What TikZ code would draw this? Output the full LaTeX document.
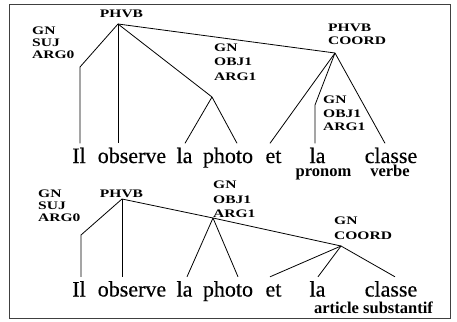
\documentclass[tikz,border=0pt]{standalone}
\usepackage{fontspec}
\setmainfont{Liberation Serif}
\newfontfamily\labfont[FakeStretch=1.35, BoldFeatures={FakeStretch=1.35}]{Liberation Serif}
\newfontfamily\wordfont[FakeBold=0.4]{Liberation Serif}
\begin{document}
\begin{tikzpicture}[x=1pt,y=-1pt,
  lab/.style={font=\labfont\bfseries\fontsize{11.5}{13}\selectfont, inner sep=0pt, anchor=base west},
  word/.style={font=\wordfont\fontsize{22}{24}\selectfont, inner sep=0pt, text height=19.5pt, text depth=0pt, anchor=base},
  poslab/.style={font=\bfseries\fontsize{16.5}{18}\selectfont, inner sep=0pt, anchor=base},
  conn/.style={line width=0.8pt, black}]
\useasboundingbox (0,0) rectangle (457,321);
\draw[line width=0.6pt, black!75] (9,4) rectangle (450,318);

% ---------- top tree ----------
\node[lab, anchor=base] (p1) at (121.5,18) {PHVB};
\coordinate (r1) at (118,24);
\node[lab] (s1a) at (32,35) {GN};
\node[lab] (s1b) at (32,47) {SUJ};
\node[lab] (s1c) at (32,59) {ARG0};
\coordinate (g1) at (80,67);
\node[lab] (o1a) at (214,52) {GN};
\node[lab] (o1b) at (214,66) {OBJ1};
\node[lab] (o1c) at (214,80) {ARG1};
\coordinate (o1) at (212,97);
\node[lab] (c1a) at (328,32) {PHVB};
\node[lab] (c1b) at (328,45) {COORD};
\coordinate (c1) at (335,53);
\node[lab] (q1a) at (323,103) {GN};
\node[lab] (q1b) at (323,117) {OBJ1};
\node[lab] (q1c) at (323,130) {ARG1};
\coordinate (q1) at (315,105);

\node[word] (il1) at (79,163) {Il};
\node[word] (ob1) at (132,163) {observe};
\node[word] (la1) at (184.5,163) {la};
\node[word] (ph1) at (228,163) {photo};
\node[word] (et1) at (273.5,163) {et};
\node[word] (lb1) at (317.5,163) {la};
\node[word] (cl1) at (391,163) {classe};
\node[poslab] (pr1) at (323.5,176) {pronom};
\node[poslab] (vb1) at (390,176) {verbe};

\draw[conn] (r1) -- (g1) -- (g1 |- il1.north);
\draw[conn] (r1) -- (r1 |- ob1.north);
\draw[conn] (r1) -- (o1);
\draw[conn] (o1) -- ([xshift=0.5pt]la1.north);
\draw[conn] (o1) -- ([xshift=9pt]ph1.north);
\draw[conn] (r1) -- (c1);
\draw[conn] (c1) -- ([xshift=-3.5pt]et1.north);
\draw[conn] (c1) -- (q1) -- (q1 |- lb1.north);
\draw[conn] (c1) -- ([xshift=-6pt]cl1.north);

% ---------- bottom tree ----------
\node[lab, anchor=base] (p2) at (121.5,197) {PHVB};
\coordinate (r2) at (122,199);
\node[lab] (s2a) at (38,197) {GN};
\node[lab] (s2b) at (38,209) {SUJ};
\node[lab] (s2c) at (38,221) {ARG0};
\coordinate (g2) at (81,235);
\node[lab] (o2a) at (213,188) {GN};
\node[lab] (o2b) at (213,203) {OBJ1};
\node[lab] (o2c) at (213,217) {ARG1};
\coordinate (o2) at (213,218);
\node[lab] (c2a) at (334,224) {GN};
\node[lab] (c2b) at (334,239) {COORD};
\coordinate (c2) at (341,246);

\node[word] (il2) at (79,296.5) {Il};
\node[word] (ob2) at (132,296.5) {observe};
\node[word] (la2) at (184.5,296.5) {la};
\node[word] (ph2) at (228,296.5) {photo};
\node[word] (et2) at (273.5,296.5) {et};
\node[word] (lb2) at (317.5,296.5) {la};
\node[word] (cl2) at (391,296.5) {classe};
\node[poslab] (ar2) at (336.5,313.5) {article};
\node[poslab] (su2) at (398,313.5) {substantif};

\draw[conn] (r2) -- (g2) -- (g2 |- il2.north);
\draw[conn] (r2) -- (r2 |- ob2.north);
\draw[conn] (r2) -- (o2) -- (c2);
\draw[conn] (o2) -- ([xshift=2.5pt]la2.north);
\draw[conn] (o2) -- ([xshift=10pt]ph2.north);
\draw[conn] (c2) -- ([xshift=-3.5pt]et2.north);
\draw[conn] (c2) -- ([xshift=0.5pt]lb2.north);
\draw[conn] (c2) -- ([xshift=4pt]cl2.north);
\end{tikzpicture}
\end{document}
